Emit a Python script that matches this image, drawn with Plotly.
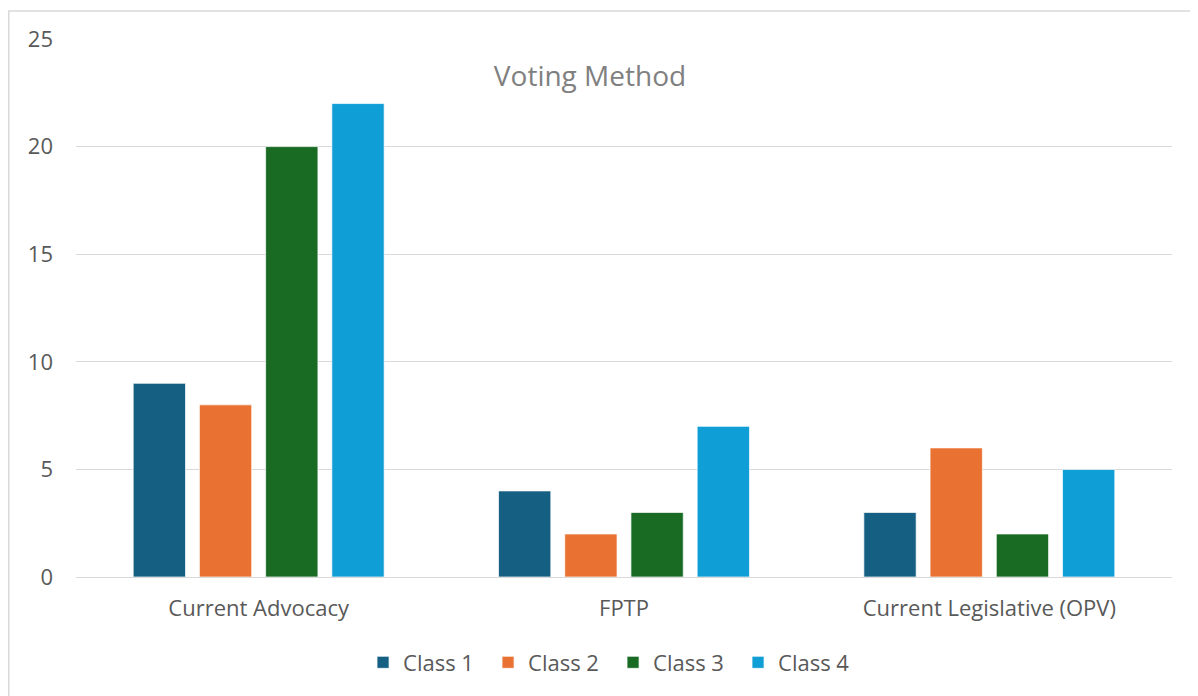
import plotly.graph_objects as go

categories = ["Current Advocacy", "FPTP", "Current Legislative (OPV)"]
class1 = [9, 4, 3]
class2 = [8, 2, 6]
class3 = [20, 3, 2]
class4 = [22, 7, 5]
series_names = ["Class 1", "Class 2", "Class 3", "Class 4"]
series_values = [class1, class2, class3, class4]
colors = ["#156082", "#E97132", "#196B24", "#0F9ED5"]
y_ticks = [0, 5, 10, 15, 20, 25]

FONT = "Open Sans"
TXT = "#595959"

fig = go.Figure()
for name, vals, col in zip(series_names, series_values, colors):
    fig.add_trace(go.Bar(
        x=categories, y=vals, name=name,
        marker=dict(color=col, line=dict(color="white", width=0.7)),
    ))

# page body has an 8px margin, so the figure is drawn 8px right/down
W, H = 1190, 688
L, R, T, B = 68, 26, 31, 116
pw = W - L - R
ph = H - T - B

fig.update_layout(
    width=W, height=H,
    margin=dict(l=L, r=R, t=T, b=B),
    paper_bgcolor="white", plot_bgcolor="white",
    barmode="group", bargap=0.275, bargroupgap=0.21,
    font=dict(family=FONT, color=TXT, size=22),
    title=dict(text="Voting Method", x=582 / W, xanchor="center",
               y=1 - 68 / H, yanchor="middle",
               font=dict(family=FONT, size=28, color="#808080")),
    legend=dict(orientation="h", x=0.49, xanchor="center", y=-(658 - 572) / ph,
                yanchor="middle", font=dict(size=22, color=TXT),
                itemwidth=30, traceorder="normal",
                entrywidth=80, entrywidthmode="pixels"),
    xaxis=dict(showgrid=False, showline=False, ticks="", ticklabelstandoff=16,
               tickfont=dict(size=22, color=TXT)),
    yaxis=dict(range=[0, 25], tickvals=y_ticks, showgrid=True, gridcolor="#D9D9D9",
               gridwidth=1, zeroline=True, zerolinecolor="#D9D9D9", zerolinewidth=1,
               showline=False, ticks="", ticklabelstandoff=22,
               tickfont=dict(size=22, color=TXT)),
    shapes=[dict(type="rect", xref="paper", yref="paper",
                 x0=(0.75 - L) / pw, x1=1.2, y0=-0.4, y1=(H - B - 2.75) / ph,
                 line=dict(color="#D9D9D9", width=1.5), fillcolor="rgba(0,0,0,0)",
                 layer="below")],
)

fig.write_html("out.html")
